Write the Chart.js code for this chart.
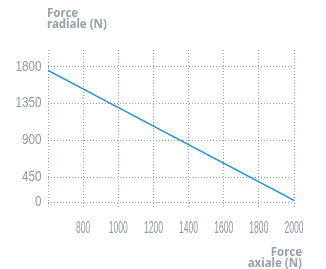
<!DOCTYPE html>
<html><head><meta charset="utf-8">
<script src="https://cdn.jsdelivr.net/npm/chart.js@4"></script>
<style>
html,body{margin:0;padding:0;background:#fff;}
#wrap{position:relative;width:326px;height:269px;}
canvas{position:absolute;left:0;top:0;}
.t{position:absolute;font-family:"Noto Sans","DejaVu Sans",sans-serif;font-weight:bold;font-size:11.5px;line-height:11px;color:#95a2ad;}
</style></head>
<body><div id="wrap"><canvas id="c" width="326" height="269"></canvas>
<div class="t" style="left:47px;top:7px;">Force<br>radiale (N)</div>
<div class="t" style="right:24px;top:246px;text-align:right;">Force<br>axiale (N)</div>
</div>
<script>
const axialForce = [600, 2000];
const radialForce = [1750, 165];
const xTickValues = [600, 800, 1000, 1200, 1400, 1600, 1800, 2000];
const xTickLabels = ['', '800', '1000', '1200', '1400', '1600', '1800', '2000'];
const yTickValues = [145, 450, 900, 1350, 1800];
const yTickLabels = ['0', '450', '900', '1350', '1800'];

const gridColor = '#8a9cad';
const labelColor = '#8d9aa6';

// condensed tick labels drawn through the scales
const condensedLabels = {
  id: 'condensedLabels',
  afterDraw(chart) {
    const ctx = chart.ctx;
    const xs = chart.scales.x, ys = chart.scales.y;
    ctx.save();
    ctx.fillStyle = labelColor;
    ctx.font = '16.5px "Liberation Sans", Arial, sans-serif';
    ctx.textAlign = 'center';
    ctx.textBaseline = 'middle';
    xTickValues.forEach((v, i) => {
      const px = xs.getPixelForValue(v);
      ctx.save();
      ctx.translate(px, xs.top + 21);
      ctx.scale(0.52, 1);
      ctx.fillText(xTickLabels[i], 0, 0);
      ctx.restore();
    });
    ctx.font = '15px "Liberation Sans", Arial, sans-serif';
    ctx.textAlign = 'right';
    yTickValues.forEach((v, i) => {
      const py = ys.getPixelForValue(v);
      ctx.save();
      ctx.translate(ys.right - 6.5, py);
      ctx.scale(0.78, 1);
      ctx.fillText(yTickLabels[i], 0, 0);
      ctx.restore();
    });
    ctx.restore();
  }
};

new Chart(document.getElementById('c'), {
  type: 'line',
  data: {
    datasets: [{
      data: axialForce.map((x, i) => ({x: x, y: radialForce[i]})),
      borderColor: '#2a8fd4',
      borderWidth: 1.5,
      pointRadius: 0,
      fill: false,
      tension: 0
    }]
  },
  options: {
    responsive: false,
    animation: false,
    layout: {padding: {top: 50, right: 32, left: 0, bottom: 0}},
    plugins: {legend: {display: false}, tooltip: {enabled: false}},
    scales: {
      x: {
        type: 'linear', min: 600, max: 2000,
        afterBuildTicks: s => { s.ticks = xTickValues.map(v => ({value: v})); },
        afterFit: s => { s.height = 62; },
        border: {display: false, dash: [1, 2]},
        grid: {color: gridColor, lineWidth: 1, drawTicks: false},
        ticks: {display: false}
      },
      y: {
        type: 'linear', min: 85, max: 2000,
        afterBuildTicks: s => { s.ticks = yTickValues.map(v => ({value: v})); },
        afterFit: s => { s.width = 48; },
        border: {display: false, dash: [1, 2]},
        grid: {color: gridColor, lineWidth: 1, drawTicks: false},
        ticks: {display: false}
      }
    }
  },
  plugins: [condensedLabels]
});
</script></body></html>
